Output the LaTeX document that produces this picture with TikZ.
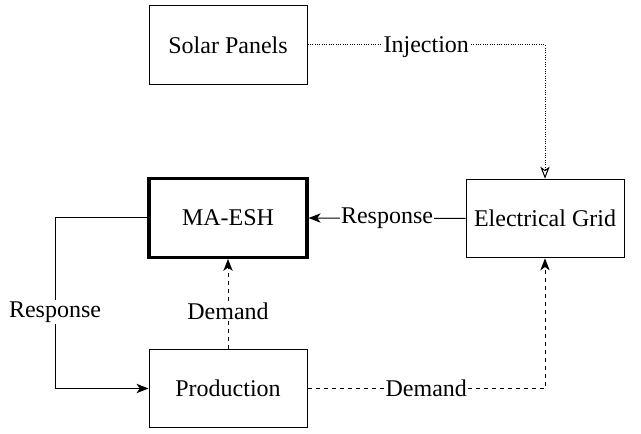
\documentclass[tikz,border=0pt]{standalone}
\usepackage{fontspec}
\setmainfont{Liberation Serif}
\usetikzlibrary{arrows.meta}
\begin{document}
\begin{tikzpicture}[x=0.75pt,y=-0.75pt,
  box/.style={draw,line width=0.75pt,minimum width=118.5pt,minimum height=59pt,inner sep=0pt,font=\fontsize{18}{21}\selectfont},
  thickbox/.style={box,line width=2.4pt},
  conn/.style={line width=0.75pt},
  lbl/.style={fill=white,inner sep=1pt,font=\fontsize{18}{21}\selectfont},
  tipf/.style={-{Stealth[length=9pt,width=7pt,inset=2.5pt]}},
  tipo/.style={-{Stealth[open,length=9pt,width=7pt,inset=2.5pt]}}]
\useasboundingbox (0,0) rectangle (641,434);
\node[box] (sp) at (228,45) {Solar Panels};
\node[thickbox] (ma) at (228,218) {MA-ESH};
\node[box] (eg) at (545,218.5) {Electrical Grid};
\node[box] (pr) at (228,388.5) {Production};
\coordinate (c1) at (545,45);
\coordinate (c2) at (55,218);
\coordinate (c3) at (55,388.5);
\coordinate (c4) at (545,388.5);
\draw[conn,densely dotted,tipo] (sp.east) -- node[lbl,solid,yshift=-1.5pt]{Injection} (c1) -- (eg.north);
\draw[conn,tipf] (eg.west) -- node[lbl]{Response} (ma.east);
\draw[conn,tipf] (ma.west) -- (c2) -- node[lbl,pos=0.55]{Response} (c3) -- (pr.west);
\draw[conn,dashed,tipf] (pr.north) -- node[lbl,pos=0.42]{Demand} (ma.south);
\draw[conn,dashed,tipf] (pr.east) -- node[lbl]{Demand} (c4) -- (eg.south);
\end{tikzpicture}
\end{document}
